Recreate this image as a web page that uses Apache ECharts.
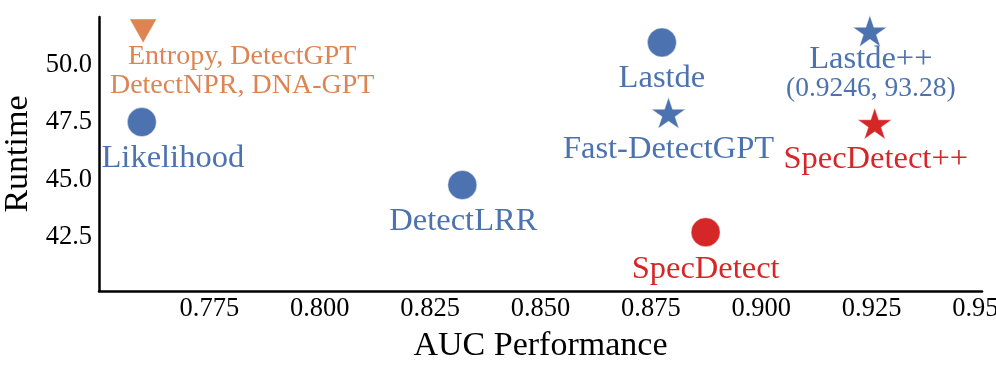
<!DOCTYPE html>
<html>
<head>
<meta charset="utf-8">
<script src="https://cdn.jsdelivr.net/npm/echarts@6/dist/echarts.min.js"></script>
<style>
    html, body { margin: 0; padding: 0; background: #fff; }
    #chart { width: 996px; height: 374px; }
</style>
</head>
<body>
<div id="chart"></div>
<script>
// values
const methods = ["Likelihood", "Entropy, DetectGPT\nDetectNPR, DNA-GPT", "DetectLRR", "Lastde", "Fast-DetectGPT", "Lastde++", "SpecDetect", "SpecDetect++"];
const auc = [0.7597, 0.760, 0.8323, 0.8775, 0.879, 0.9246, 0.8874, 0.9257];
const runtime = [47.51, 51.48, 44.77, 50.98, 47.91, 51.48, 42.71, 47.45];
const notes = {"Lastde++": "(0.9246, 93.28)"};
const xTicks = [0.775, 0.8, 0.825, 0.85, 0.875, 0.9, 0.925, 0.95];
const yTicks = [42.5, 45, 47.5, 50];

const FONT = "'Liberation Serif', 'DejaVu Serif', serif";
const BLUE = "#4C72B0", ORANGE = "#DD8452", RED = "#D62728";
const STAR = "path://M1 0L1.2245 0.691L1.9511 0.691L1.3633 1.118L1.5878 1.809L1 1.382L0.4122 1.809L0.6367 1.118L0.0489 0.691L0.7755 0.691Z";

// marker look + where its text sits (px from the marker)
let look = {
    "Likelihood": {symbol: "circle", color: BLUE, offset: [31, 36]},
    "Entropy, DetectGPT\nDetectNPR, DNA-GPT": {symbol: "triangle", rotate: 180, color: ORANGE, offset: [99, 40], fontSize: 28, lineHeight: 29},
    "DetectLRR": {symbol: "circle", color: BLUE, offset: [1, 36]},
    "Lastde": {symbol: "circle", color: BLUE, offset: [0, 36]},
    "Fast-DetectGPT": {symbol: STAR, color: BLUE, offset: [0, 37]},
    "Lastde++": {symbol: STAR, color: BLUE, offset: [1, 43]},
    "SpecDetect": {symbol: "circle", color: RED, offset: [0, 37]},
    "SpecDetect++": {symbol: STAR, color: RED, offset: [1, 36]},
};

let points = methods.map((name, i) => {
    let lk = look[name];
    let size = lk.symbol === "circle" ? 29 : (lk.symbol === "triangle" ? [27, 24] : [34, 33]);
    let label = {
        show: true,
        position: "inside",
        offset: lk.offset,
        align: "center",
        verticalAlign: "middle",
        color: lk.color,
        opacity: 1,
        fontFamily: FONT,
        fontSize: lk.fontSize || 32.5,
        lineHeight: lk.lineHeight || 32,
        formatter: name,
    };
    if (notes[name]) {
        label.formatter = `{a|${name}}\n{b|${notes[name]}}`;
        label.rich = {
            a: {fontFamily: FONT, fontSize: 32.5, lineHeight: 30, color: lk.color},
            b: {fontFamily: FONT, fontSize: 27.5, lineHeight: 30, color: lk.color},
        };
    }
    return {
        name: name,
        value: [auc[i], runtime[i]],
        symbol: lk.symbol,
        symbolSize: size,
        symbolRotate: lk.rotate || 0,
        symbolKeepAspect: true,
        itemStyle: {
            color: lk.color,
            opacity: 1,
            borderColor: "rgba(255,255,255,0.55)",
            borderWidth: 0.8,
        },
        label: label,
    };
});

let options = {
    animation: false,
    backgroundColor: "#fff",
    grid: {
        left: 99,
        right: 14,
        top: 17,
        bottom: 83,
        containLabel: false,
        outerBoundsMode: "none",
    },
    xAxis: {
        type: "value",
        min: 0.75,
        max: 0.95,
        name: "AUC Performance",
        nameLocation: "middle",
        nameGap: 38,
        nameTextStyle: {fontFamily: FONT, fontSize: 34, color: "#000"},
        splitLine: {show: false},
        axisTick: {show: false},
        axisLine: {show: true, onZero: false, lineStyle: {color: "#000", width: 2.5}},
        axisLabel: {
            customValues: xTicks,
            margin: 5,
            fontFamily: FONT,
            fontSize: 26.5,
            color: "#000",
            formatter: v => v.toFixed(3),
        },
    },
    yAxis: {
        type: "value",
        min: 40.15,
        max: 52.09,
        name: "Runtime",
        nameLocation: "middle",
        nameGap: 61,
        nameTextStyle: {fontFamily: FONT, fontSize: 34, color: "#000"},
        splitLine: {show: false},
        axisTick: {show: false},
        axisLine: {show: true, onZero: false, lineStyle: {color: "#000", width: 2.5}},
        axisLabel: {
            customValues: yTicks,
            margin: 7,
            fontFamily: FONT,
            fontSize: 26.5,
            color: "#000",
            formatter: v => v.toFixed(1),
        },
    },
    series: [
        {
            type: "scatter",
            itemStyle: {opacity: 1},
            data: points,
        },
    ],
};

let chart = echarts.init(document.getElementById("chart"), null, {renderer: "canvas"});
chart.setOption(options);
</script>
</body>
</html>
